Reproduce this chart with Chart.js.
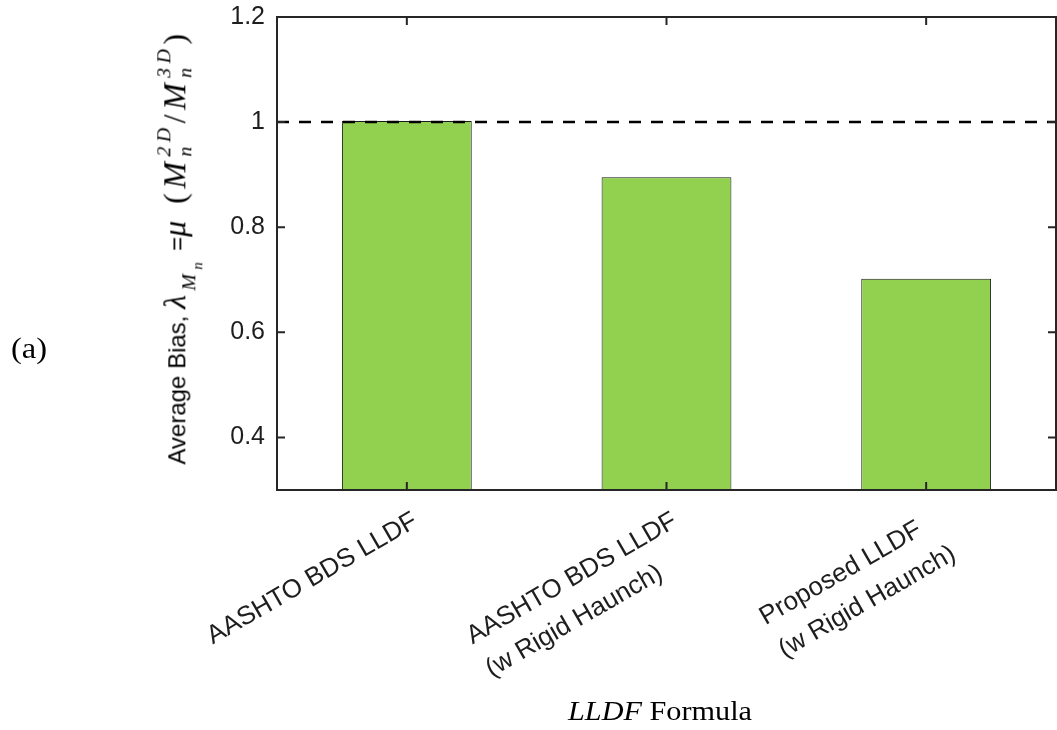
<!DOCTYPE html>
<html>
<head>
<meta charset="utf-8">
<script src="https://cdn.jsdelivr.net/npm/chart.js@4"></script>
<style>
  html, body { margin: 0; padding: 0; background: #fff; }
  #wrap { position: relative; width: 1057px; height: 730px; overflow: hidden; }
  #c { position: absolute; left: 0; top: 0; }
  .serif { font-family: "Liberation Serif", "Times New Roman", serif; color: #000; position: absolute; white-space: nowrap; }
  #panel { left: 11px; top: 332px; font-size: 29px; transform-origin: left top; transform: scaleX(1.12); }
  #xtitle { left: 660px; top: 695px; font-size: 28px; transform: translateX(-50%) scaleX(1.08); }
  #ytitle { position: absolute; left: 179px; top: 247px; white-space: nowrap; color: #000; line-height: 1;
            transform: translate(-50%, -50%) rotate(-90deg); font-family: "Liberation Serif", serif; font-size: 32px; }
  #ytitle .sf { font-family: "Liberation Sans", Arial, sans-serif; font-size: 24px; letter-spacing: 0; }
  #ytitle .math { letter-spacing: 4.5px; }
  #ytitle i { font-style: italic; }
  #ytitle .sub1 { font-size: 0.62em; vertical-align: -0.5em; }
  #ytitle .sub2 { font-size: 0.75em; vertical-align: -0.45em; }
  #ytitle .ss { display: inline-flex; flex-direction: column; font-size: 0.62em; line-height: 1.05; vertical-align: 0.75em; margin-left: 1px; }
</style>
</head>
<body>
<div id="wrap">
  <canvas id="c" width="1057" height="730"></canvas>
  <div id="panel" class="serif">(a)</div>
  <div id="xtitle" class="serif"><i>LLDF</i> Formula</div>
  <div id="ytitle"><span class="sf">Average Bias, </span><span class="math"><i>λ</i><span class="sub1"><i>M</i><span class="sub2"><i>n</i></span></span><span class="sf"> =</span><i>μ</i> (<i>M</i><span class="ss"><i>2D</i><i>n</i></span>/<i>M</i><span class="ss"><i>3D</i><i>n</i></span>)</span></div>
</div>
<script>
// 平均偏差長條圖 — LLDF 公式比較
const $ = (s, r=document) => r.querySelector(s);

const CATEGORIES = [
  ['AASHTO BDS LLDF'],
  ['AASHTO BDS LLDF', '(w Rigid Haunch)'],
  ['Proposed LLDF', '(w Rigid Haunch)'],
];
const BIAS = [1.002, 0.895, 0.702];
const Y_TICKS = [0.4, 0.6, 0.8, 1, 1.2];
const Y_MIN = 0.3, Y_MAX = 1.2;
const REF_LINE = 1;

const AXIS = '#262626';
const TICK_LEN = 8;
const SANS = '"Liberation Sans", Arial, sans-serif';

// ─── 外框 + 內向刻度 ───
const framePlugin = {
  id: 'frame',
  afterDraw(chart) {
    const { ctx, chartArea: a, scales: { x, y } } = chart;
    ctx.save();
    ctx.strokeStyle = AXIS;
    ctx.lineWidth = 2;
    ctx.strokeRect(a.left, a.top, a.right - a.left, a.bottom - a.top);
    ctx.beginPath();
    for (const v of Y_TICKS) {
      const py = y.getPixelForValue(v);
      ctx.moveTo(a.left, py); ctx.lineTo(a.left + TICK_LEN, py);
      ctx.moveTo(a.right, py); ctx.lineTo(a.right - TICK_LEN, py);
    }
    CATEGORIES.forEach((_, i) => {
      const px = x.getPixelForTick(i);
      ctx.moveTo(px, a.bottom); ctx.lineTo(px, a.bottom - TICK_LEN);
      ctx.moveTo(px, a.top); ctx.lineTo(px, a.top + TICK_LEN);
    });
    ctx.stroke();
    ctx.restore();
  }
};

// ─── 虛線 λ = 1 ───
const refLinePlugin = {
  id: 'refLine',
  afterDatasetsDraw(chart) {
    const { ctx, chartArea: a, scales: { y } } = chart;
    const py = y.getPixelForValue(REF_LINE);
    ctx.save();
    ctx.strokeStyle = '#000';
    ctx.lineWidth = 2.5;
    ctx.setLineDash([12, 10]);
    ctx.beginPath();
    ctx.moveTo(a.left, py); ctx.lineTo(a.right, py);
    ctx.stroke();
    ctx.restore();
  }
};

// ─── X 軸斜字標籤（多行靠左，整塊右上角對齊刻度）───
const XL_SIZE = 26, XL_LINE = 38, XL_ROT = -30 * Math.PI / 180;
const xLabelPlugin = {
  id: 'xLabels',
  afterDraw(chart) {
    const { ctx, scales: { x } } = chart;
    ctx.save();
    ctx.font = `${XL_SIZE}px ${SANS}`;
    ctx.fillStyle = '#1e1e1e';
    ctx.textAlign = 'left';
    ctx.textBaseline = 'top';
    CATEGORIES.forEach((lines, i) => {
      const w = Math.max(...lines.map(l => ctx.measureText(l).width));
      ctx.save();
      ctx.translate(x.getPixelForTick(i) + 2, x.top + 18);
      ctx.rotate(XL_ROT);
      lines.forEach((l, k) => ctx.fillText(l, -w, k * XL_LINE));
      ctx.restore();
    });
    ctx.restore();
  }
};

new Chart($('#c').getContext('2d'), {
  type: 'bar',
  data: {
    labels: CATEGORIES,
    datasets: [{
      data: BIAS,
      backgroundColor: '#92D050',
      borderColor: '#1a1a1a',
      borderWidth: 1,
      categoryPercentage: 1,
      barPercentage: 0.5,
    }]
  },
  options: {
    responsive: false,
    animation: false,
    layout: { padding: { top: 17, right: 1, left: 0, bottom: 0 } },
    plugins: { legend: { display: false }, tooltip: { enabled: false } },
    scales: {
      x: {
        offset: true,
        grid: { display: false, drawTicks: false },
        border: { display: false },
        ticks: { display: false },
        afterFit: s => { s.height = 240; },
      },
      y: {
        min: Y_MIN, max: Y_MAX,
        grid: { display: false, drawTicks: false },
        border: { display: false },
        afterBuildTicks: s => { s.ticks = Y_TICKS.map(v => ({ value: v })); },
        ticks: {
          padding: 12,
          color: '#1e1e1e',
          font: { family: SANS, size: 25 },
          callback: v => String(v),
        },
        afterFit: s => { s.width = 277; s.paddingTop = 0; s.paddingBottom = 0; },
      }
    }
  },
  plugins: [refLinePlugin, framePlugin, xLabelPlugin]
});
</script>
</body>
</html>
